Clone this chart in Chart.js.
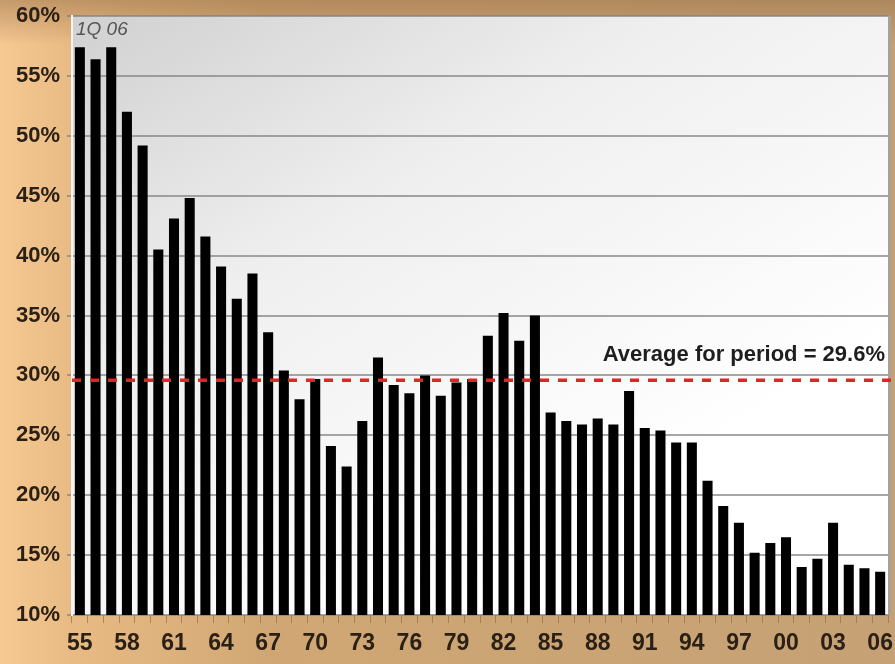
<!DOCTYPE html>
<html><head><meta charset="utf-8">
<script src="https://cdn.jsdelivr.net/npm/chart.js@4.4.1/dist/chart.umd.min.js"></script>
<style>
html,body{margin:0;padding:0;}
body{width:895px;height:664px;overflow:hidden;background:
 linear-gradient(to bottom, rgba(150,110,70,0.5) 0px, rgba(150,110,70,0) 45px),
 linear-gradient(to right, #f6c892 0%, #e9bb84 8%, #d0a774 30%, #c5a175 100%);}
#wrap{position:relative;width:895px;height:664px;}
</style></head>
<body><div id="wrap"><canvas id="c"></canvas></div>
<script>
const years = ['55','56','57','58','59','60','61','62','63','64','65','66','67','68','69',
  '70','71','72','73','74','75','76','77','78','79','80','81','82','83','84','85','86','87',
  '88','89','90','91','92','93','94','95','96','97','98','99','00','01','02','03','04','05','06'];
const values = [57.4,56.4,57.4,52.0,49.2,40.5,43.1,44.8,41.6,39.1,36.4,38.5,33.6,30.4,28.0,
  29.7,24.1,22.4,26.2,31.5,29.2,28.5,30.0,28.3,29.4,29.7,33.3,35.2,32.9,35.0,26.9,26.2,25.9,
  26.4,25.9,28.7,25.6,25.4,24.4,24.4,21.2,19.1,17.7,15.2,16.0,16.5,14.0,14.7,17.7,14.2,13.9,13.6];
const shownYears = ['55','58','61','64','67','70','73','76','79','82','85','88','91','94','97','00','03','06'];
const yMin = 10, yMax = 60, yStep = 5;
const averageValue = 29.6;
const averageLabel = 'Average for period = 29.6%';
const periodNote = '1Q 06';

const FONT = '"Liberation Sans", Arial, sans-serif';

const plotDecor = {
  id: 'plotDecor',
  beforeDraw(chart) {
    const {ctx, chartArea: a} = chart;
    ctx.save();
    const g = ctx.createLinearGradient(a.left, a.top, a.left + (a.right - a.left) * 0.45, a.bottom);
    g.addColorStop(0, '#d0d0d0');
    g.addColorStop(0.45, '#efefef');
    g.addColorStop(1, '#ffffff');
    ctx.fillStyle = g;
    ctx.fillRect(a.left, a.top, a.right - a.left, a.bottom - a.top);
    ctx.fillStyle = '#a7a199';
    ctx.fillRect(a.right, a.top, 3, a.bottom - a.top);
    ctx.restore();
  },
  afterDatasetsDraw(chart) {
    const {ctx, chartArea: a, scales: {y}} = chart;
    const py = y.getPixelForValue(averageValue);
    ctx.save();
    ctx.strokeStyle = '#e8202a';
    ctx.lineWidth = 3.5;
    ctx.setLineDash([9, 9]);
    ctx.beginPath();
    ctx.moveTo(a.left, py);
    ctx.lineTo(a.right + 4, py);
    ctx.stroke();
    ctx.setLineDash([]);
    ctx.font = 'bold 22px ' + FONT;
    ctx.fillStyle = '#1e1e1e';
    ctx.textAlign = 'right';
    ctx.textBaseline = 'middle';
    ctx.fillText(averageLabel, a.right - 3, py - 25);
    ctx.font = 'italic 19px ' + FONT;
    ctx.fillStyle = '#555555';
    ctx.textAlign = 'left';
    ctx.fillText(periodNote, a.left + 4, a.top + 14);
    ctx.restore();
  }
};

new Chart(document.getElementById('c'), {
  type: 'bar',
  data: {
    labels: years,
    datasets: [{
      data: values,
      backgroundColor: '#000000',
      borderWidth: 0,
      barPercentage: 0.64,
      categoryPercentage: 1.0
    }]
  },
  options: {
    responsive: true,
    maintainAspectRatio: false,
    animation: false,
    layout: {padding: {top: 16, right: 7, left: 0, bottom: 0}},
    plugins: {legend: {display: false}, tooltip: {enabled: false}},
    scales: {
      x: {
        afterFit(scale) { scale.height = 49; scale.paddingLeft = 0; scale.paddingRight = 0; },
        border: {display: false},
        grid: {display: true, drawOnChartArea: false, drawTicks: true, tickLength: 8, color: 'rgba(150,110,70,0.7)', offset: true},
        ticks: {
          autoSkip: false, maxRotation: 0, padding: 7,
          color: '#2b2015',
          font: {family: FONT, size: 23, weight: 'bold'},
          callback(v, i) { const l = years[i]; return shownYears.includes(l) ? l : ''; }
        }
      },
      y: {
        min: yMin, max: yMax,
        afterFit(scale) { scale.width = 72; scale.paddingTop = 0; scale.paddingBottom = 0; },
        border: {display: true, color: '#f4f4f4', width: 2},
        grid: {color: 'rgba(130,130,130,0.7)', lineWidth: 2, drawTicks: true, tickLength: 5},
        ticks: {
          stepSize: yStep, padding: 7,
          color: '#2b2015',
          font: {family: FONT, size: 22, weight: 'bold'},
          callback(v) { return v + '%'; }
        }
      }
    }
  },
  plugins: [plotDecor]
});
</script>
</body></html>
